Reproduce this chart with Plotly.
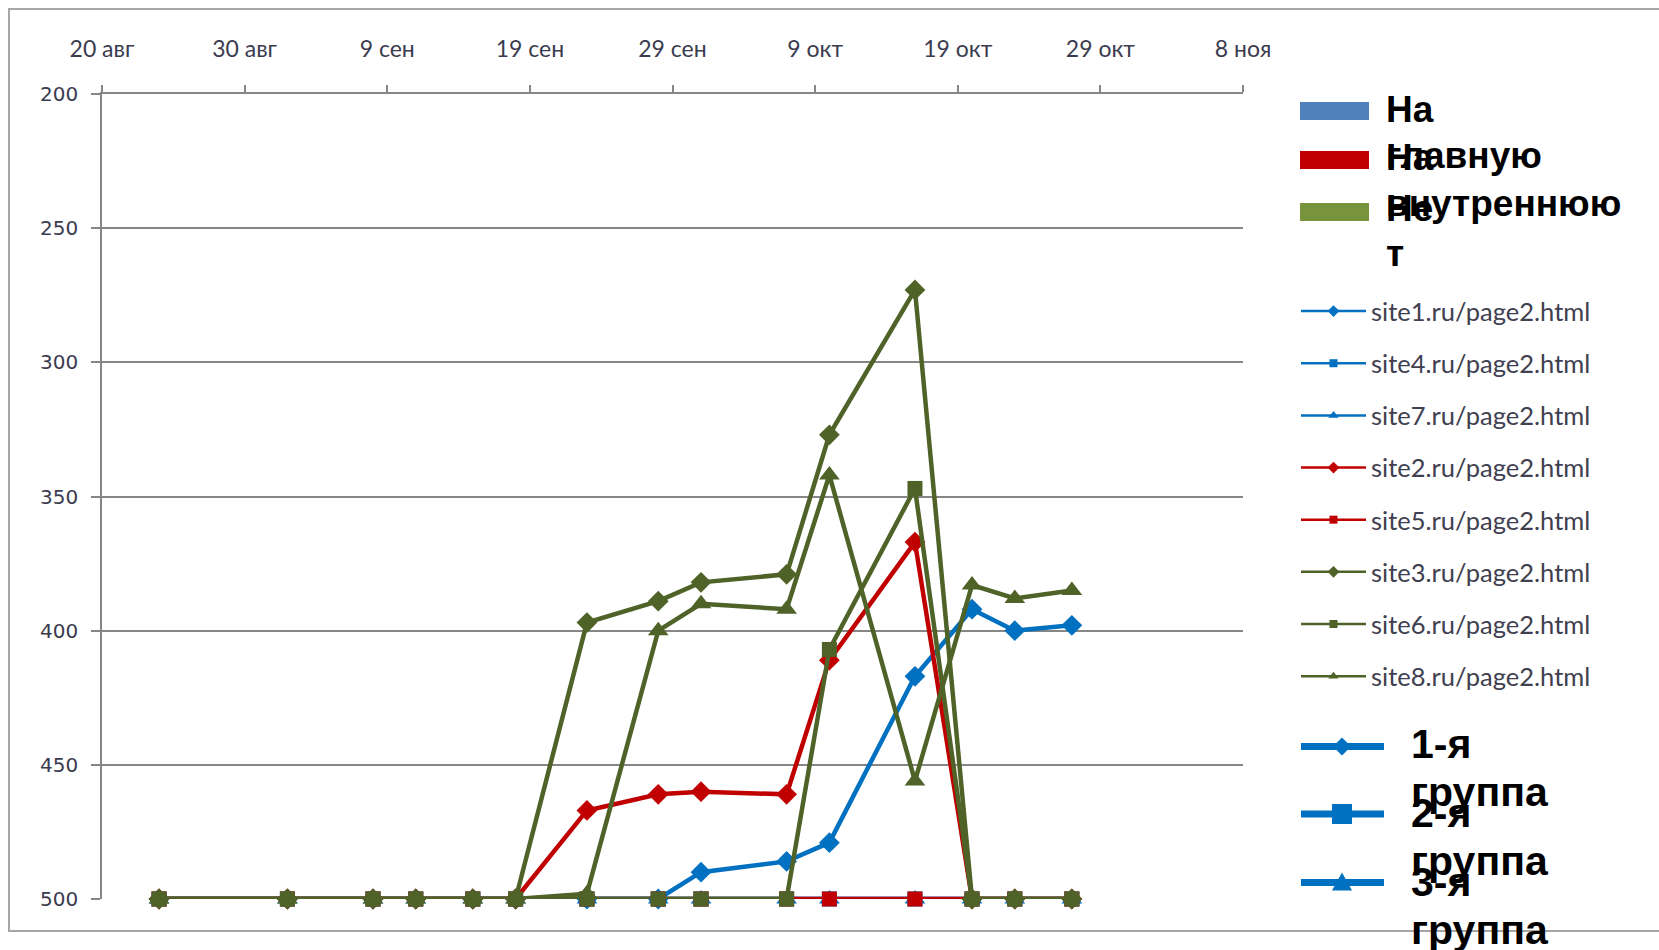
import plotly.graph_objects as go

# ---------------- data ----------------
dates = ["2010-08-24", "2010-09-02", "2010-09-08", "2010-09-11", "2010-09-15",
         "2010-09-18", "2010-09-23", "2010-09-28", "2010-10-01", "2010-10-07",
         "2010-10-10", "2010-10-16", "2010-10-20", "2010-10-23", "2010-10-27"]

site1 = [500, 500, 500, 500, 500, 500, 500, 500, 490, 486, 479, 417, 392, 400, 398]
site4 = [500, 500, 500, 500, 500, 500, 500, 500, 500, 500, 500, 500, 500, 500, 500]
site7 = [500, 500, 500, 500, 500, 500, 500, 500, 500, 500, 500, 500, 500, 500, 500]
site2 = [500, 500, 500, 500, 500, 500, 467, 461, 460, 461, 411, 367, 500, 500, 500]
site5 = [500, 500, 500, 500, 500, 500, 500, 500, 500, 500, 500, 500, 500, 500, 500]
site3 = [500, 500, 500, 500, 500, 500, 397, 389, 382, 379, 327, 273, 500, 500, 500]
site6 = [500, 500, 500, 500, 500, 500, 500, 500, 500, 500, 407, 347, 500, 500, 500]
site8 = [500, 500, 500, 500, 500, 500, 498, 400, 390, 392, 342, 456, 383, 388, 385]

x_tickvals = ["2010-08-20", "2010-08-30", "2010-09-09", "2010-09-19", "2010-09-29",
              "2010-10-09", "2010-10-19", "2010-10-29", "2010-11-08"]
x_ticktext = ["20 авг", "30 авг", "9 сен", "19 сен", "29 сен",
              "9 окт", "19 окт", "29 окт", "8 ноя"]
y_tickvals = [200, 250, 300, 350, 400, 450, 500]

group_labels = [("На", "главную"), ("На", "внутреннюю"), ("Не", "т")]
cluster_labels = [("1-я", "группа"), ("2-я", "группа"), ("3-я", "группа")]

BLUE, RED, GREEN = "#0070C0", "#C00000", "#4F6228"
series = [
    ("site1.ru/page2.html", site1, BLUE, "diamond"),
    ("site4.ru/page2.html", site4, BLUE, "square"),
    ("site7.ru/page2.html", site7, BLUE, "triangle-up"),
    ("site2.ru/page2.html", site2, RED, "diamond"),
    ("site5.ru/page2.html", site5, RED, "square"),
    ("site3.ru/page2.html", site3, GREEN, "diamond"),
    ("site6.ru/page2.html", site6, GREEN, "square"),
    ("site8.ru/page2.html", site8, GREEN, "triangle-up"),
]
msize = {"diamond": 16, "square": 15, "triangle-up": 18}
lsize = {"diamond": 9, "square": 8, "triangle-up": 9}

# ---------------- layout geometry ----------------
W, H = 1659, 950
L, R, T, B = 102, 416, 94, 51
PW, PH = W - L - R, H - T - B


def fx(px):
    return (px - L) / PW


def fy(py):
    return 1 - (py - T) / PH


fig = go.Figure()

for name, vals, color, sym in series:
    fig.add_trace(go.Scatter(
        x=dates, y=vals, mode="lines+markers", name=name,
        line=dict(color=color, width=4.5),
        marker=dict(symbol=sym, size=msize[sym], color=color),
        cliponaxis=False, showlegend=False, legendgroup=name))

# legend-only entries (smaller glyphs like the original legend)
for name, vals, color, sym in series:
    fig.add_trace(go.Scatter(
        x=[None], y=[None], mode="lines+markers", name=name,
        line=dict(color=color, width=2.5),
        marker=dict(symbol=sym, size=lsize[sym], color=color),
        showlegend=True, legendgroup=name))

shapes = []
annotations = []

# outer frame
shapes.append(dict(type="rect", xref="paper", yref="paper",
                   x0=fx(9), x1=fx(1675), y0=fy(9), y1=fy(931),
                   line=dict(color="#A6A6A6", width=2), fillcolor="rgba(0,0,0,0)",
                   layer="below"))


def label(text, px, py, size):
    annotations.append(dict(xref="paper", yref="paper", x=fx(px), y=fy(py),
                            xanchor="left", yanchor="middle", align="left",
                            text=text, showarrow=False,
                            font=dict(family="Liberation Sans", size=size, color="black",
                                      weight="bold")))


# bold legend with bars
bar_colors = ["#4F81BD", "#C00000", "#77933C"]
bar_cy = [111, 160, 212]
text_cy = [110, 157, 208]
for (l1, l2), col, cy, tcy in zip(group_labels, bar_colors, bar_cy, text_cy):
    shapes.append(dict(type="rect", xref="paper", yref="paper",
                       x0=fx(1300), x1=fx(1369), y0=fy(cy - 9), y1=fy(cy + 9),
                       line=dict(width=0), fillcolor=col))
    label(l1, 1384, tcy, 37)
    label(l2, 1384, tcy + 46, 37)

# group legend with thick lines + markers
g_cy = [746.5, 814, 882.5]
g_tcy = [744, 813, 882]
for i, ((l1, l2), cy, tcy) in enumerate(zip(cluster_labels, g_cy, g_tcy)):
    shapes.append(dict(type="line", xref="paper", yref="paper",
                       x0=fx(1301), x1=fx(1384), y0=fy(cy), y1=fy(cy),
                       line=dict(color=BLUE, width=7)))
    cx = 1342
    if i == 0:
        d = 9
        path = "M {},{} L {},{} L {},{} L {},{} Z".format(
            fx(cx), fy(cy - d), fx(cx + d), fy(cy), fx(cx), fy(cy + d), fx(cx - d), fy(cy))
        shapes.append(dict(type="path", xref="paper", yref="paper", path=path,
                           fillcolor=BLUE, line=dict(width=0)))
    elif i == 1:
        d = 10
        shapes.append(dict(type="rect", xref="paper", yref="paper",
                           x0=fx(cx - d), x1=fx(cx + d), y0=fy(cy - d), y1=fy(cy + d),
                           fillcolor=BLUE, line=dict(width=0)))
    else:
        path = "M {},{} L {},{} L {},{} Z".format(
            fx(cx), fy(cy - 10), fx(cx + 10), fy(cy + 8), fx(cx - 10), fy(cy + 8))
        shapes.append(dict(type="path", xref="paper", yref="paper", path=path,
                           fillcolor=BLUE, line=dict(width=0)))
    label(l1, 1409, tcy, 41)
    label(l2, 1409, tcy + 48, 41)

AXC = "#868686"
TXC = "#3B3B4F"

fig.update_layout(
    width=W, height=H,
    margin=dict(l=L, r=R, t=T, b=B),
    paper_bgcolor="white", plot_bgcolor="white",
    shapes=shapes, annotations=annotations,
    showlegend=True,
    legend=dict(x=fx(1296), y=fy(288), xanchor="left", yanchor="top",
                font=dict(family="Lato", size=25.5, color="#404050"),
                bgcolor="rgba(0,0,0,0)", itemwidth=65, tracegroupgap=16,
                traceorder="grouped"),
    xaxis=dict(type="date", range=["2010-08-20", "2010-11-08"], side="top",
               tickmode="array", tickvals=x_tickvals, ticktext=x_ticktext,
               showgrid=False, showline=True, linecolor=AXC, linewidth=1.5,
               ticks="outside", ticklen=7, tickcolor=AXC, tickwidth=1.5,
               tickfont=dict(family="Lato", size=23, color=TXC),
               ticklabelstandoff=19, zeroline=False),
    yaxis=dict(range=[500, 200], autorange=False,
               tickmode="array", tickvals=y_tickvals,
               showgrid=True, gridcolor=AXC, gridwidth=1.5,
               showline=True, linecolor=AXC, linewidth=1.5,
               ticks="outside", ticklen=9, tickcolor=AXC, tickwidth=1.5,
               tickfont=dict(family="DejaVu Sans", size=20, color=TXC),
               ticklabelstandoff=9, zeroline=False),
)

fig.write_html("out.html",
               config={"displayModeBar": False},
               post_script="document.body.style.margin='0';document.body.style.padding='0';")
